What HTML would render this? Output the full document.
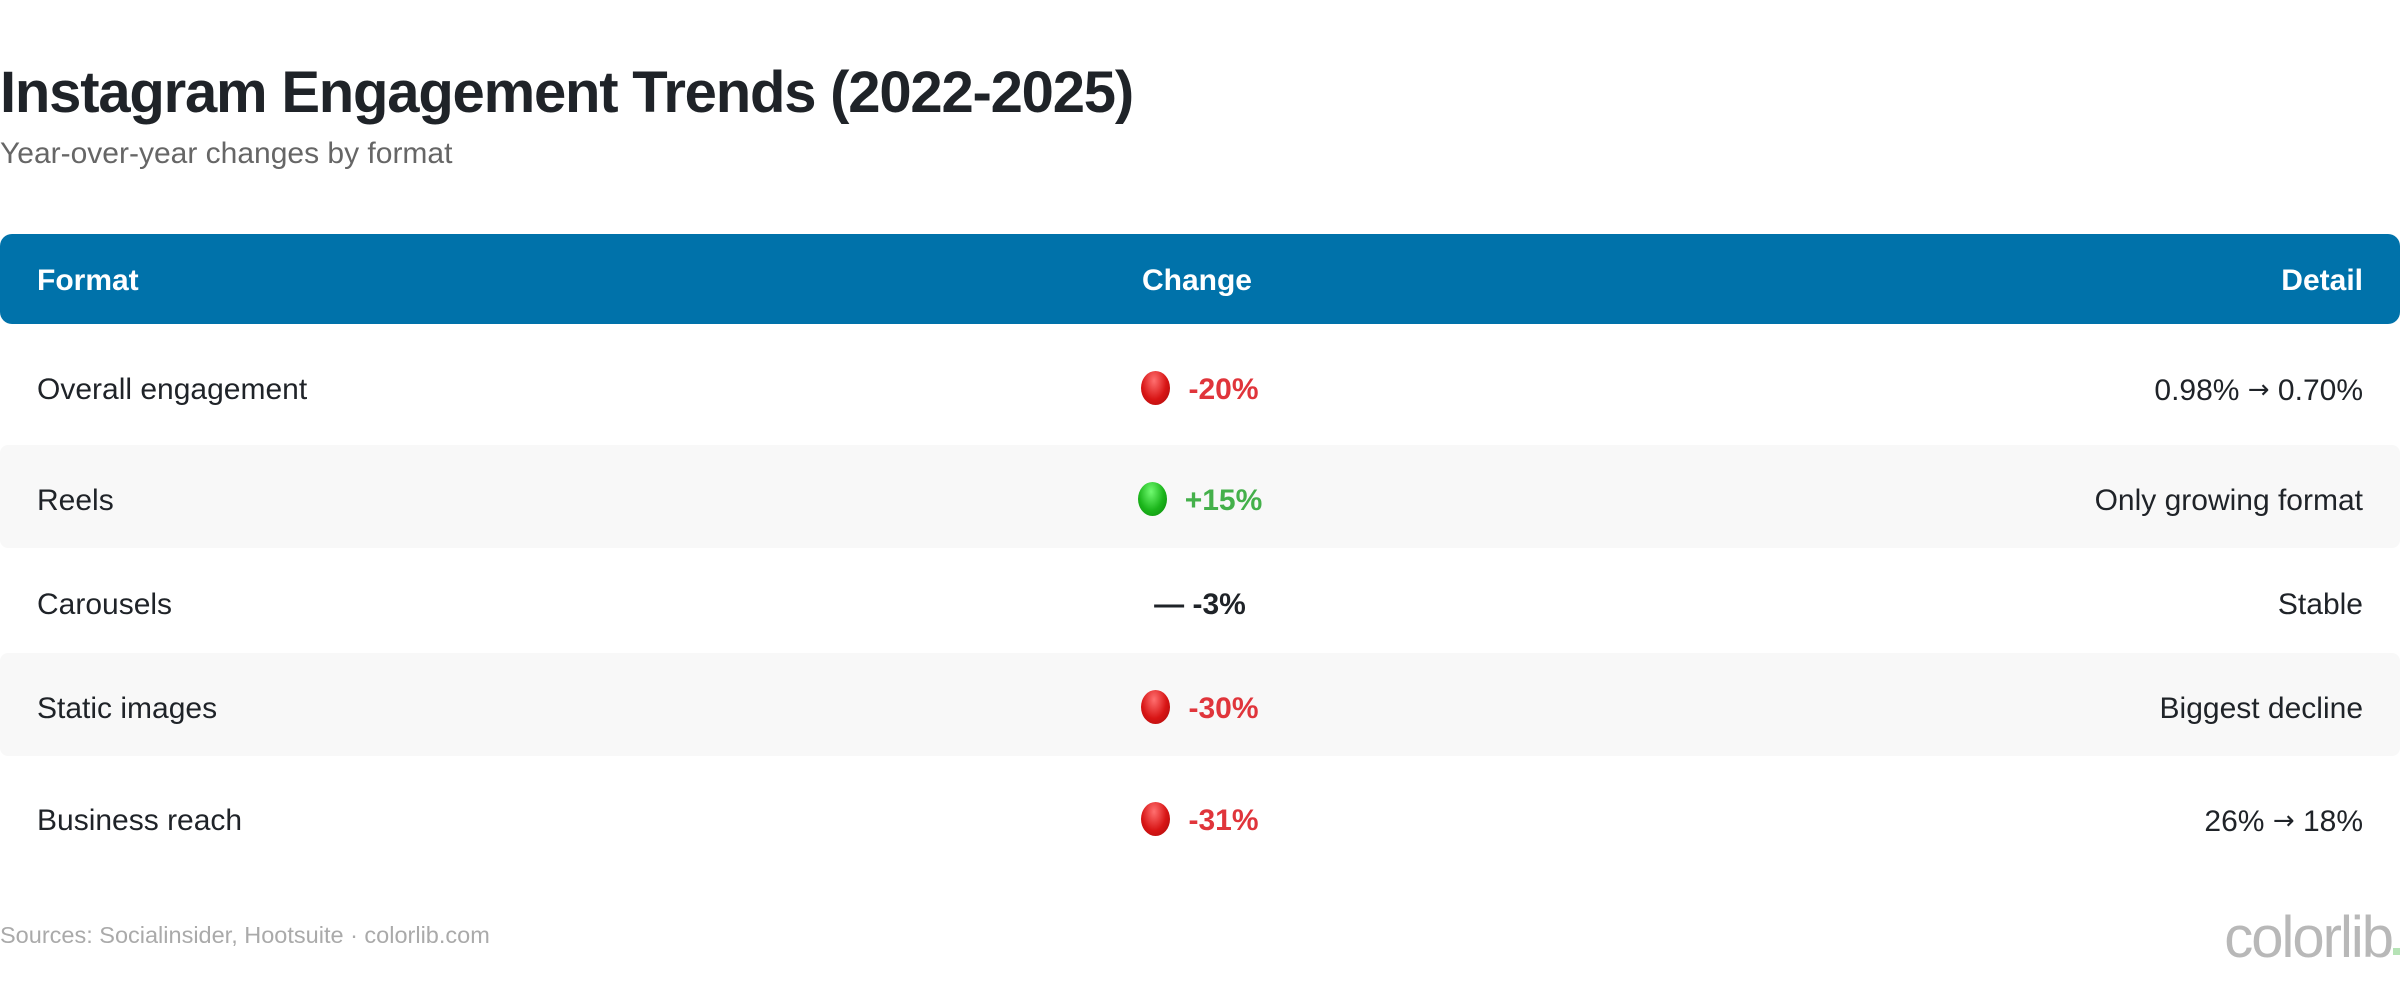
<!DOCTYPE html>
<html><head><meta charset="utf-8"><style>
body{margin:0;width:2400px;height:994px;background:#fff;font-family:"Liberation Sans",Arial,sans-serif;position:relative;overflow:hidden;color:#1f2328}
.a{position:absolute}
h1{position:absolute;left:0;top:59px;margin:0;font-size:58px;font-weight:bold;color:#1f2328;letter-spacing:-1.2px;line-height:68px}
.sub{left:0;top:136px;font-size:30px;color:#666;line-height:36px}
.hdr{left:0;top:234px;width:2400px;height:90px;background:#0072aa;border-radius:12px}
.ht{top:263px;font-size:30px;font-weight:bold;color:#fff;line-height:36px}
.band{left:0;width:2400px;height:103px;background:#f8f8f8;border-radius:8px}
.row{left:0;width:2400px;height:40px;font-size:30px;line-height:40px}
.row .l{position:absolute;left:37px}
.row .r{position:absolute;right:37px}
.row .c{position:absolute;left:0;width:2400px;text-align:center;font-weight:bold}
.dot{display:inline-block;width:29px;height:34px;border-radius:50%;vertical-align:-6px;margin-right:18px}
.red{background:radial-gradient(ellipse at 45% 28%,#ff7070,#d81515 55%,#a50a0a)}
.grn{background:radial-gradient(ellipse at 45% 28%,#70fa70,#1bb51b 55%,#0b850b)}
.rc{color:#e0353b}.gc{color:#44b04a}
.ar{font-family:"DejaVu Sans",sans-serif;font-size:26px;vertical-align:2px}
</style></head><body>
<h1>Instagram Engagement Trends (2022-2025)</h1>
<div class="a sub">Year-over-year changes by format</div>
<div class="a hdr"></div>
<div class="a ht" style="left:37px">Format</div>
<div class="a ht" style="left:0;width:2394px;text-align:center">Change</div>
<div class="a ht" style="right:37px">Detail</div>
<div class="a band" style="top:445px"></div>
<div class="a band" style="top:653px"></div>
<div class="a row" style="top:370px"><span class="l">Overall engagement</span><span class="c"><span class="dot red"></span><span class="rc">-20%</span></span><span class="r">0.98% <span class="ar">→</span> 0.70%</span></div>
<div class="a row" style="top:481px"><span class="l">Reels</span><span class="c"><span class="dot grn"></span><span class="gc">+15%</span></span><span class="r">Only growing format</span></div>
<div class="a row" style="top:585px"><span class="l">Carousels</span><span class="c">— -3%</span><span class="r">Stable</span></div>
<div class="a row" style="top:689px"><span class="l">Static images</span><span class="c"><span class="dot red"></span><span class="rc">-30%</span></span><span class="r">Biggest decline</span></div>
<div class="a row" style="top:801px"><span class="l">Business reach</span><span class="c"><span class="dot red"></span><span class="rc">-31%</span></span><span class="r">26% <span class="ar">→</span> 18%</span></div>
<div class="a" style="left:0;top:922px;font-size:23.5px;color:#aaa">Sources: Socialinsider, Hootsuite · colorlib.com</div>
<div class="a" style="right:8px;top:904px;font-size:58px;color:#b8b8b8;letter-spacing:-2px">colorlib</div>
<div class="a" style="right:0;top:948px;width:7px;height:7px;background:#b6e3b6"></div>
</body></html>
